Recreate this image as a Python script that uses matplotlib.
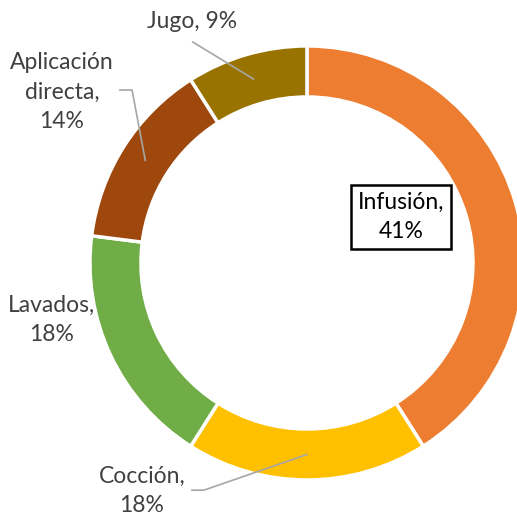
import numpy as np
import matplotlib.pyplot as plt

plt.rcParams['font.family'] = ['Lato', 'DejaVu Sans']

labels = ["Infusión", "Cocción", "Lavados", "Aplicación\ndirecta", "Jugo"]
values = [41, 18, 18, 14, 9]
colors = ["#ED7D31", "#FFC000", "#70AD47", "#9E480E", "#997300"]

fig = plt.figure(figsize=(5.17, 5.17), dpi=100)
# axes placed so the ring sits like the original (right side slightly cut)
ax = fig.add_axes([0.174, 0.0716, 0.8395, 0.8395])

ring = 0.235
wedges, _ = ax.pie(values, colors=colors, startangle=90, counterclock=False,
                   radius=1, wedgeprops=dict(width=ring, edgecolor='white', linewidth=2.5))
for w in wedges:
    w.set_clip_on(False)
ax.set_xlim(-1, 1)
ax.set_ylim(-1, 1)
ax.set_aspect('equal')
ax.axis('off')

texts = ["Infusión,\n41%", "Cocción,\n18%", "Lavados,\n18%",
         "Aplicación\ndirecta,\n14%", "Jugo, 9%"]

# label positions in axis units (radius = 1)
pos = [(0.433, 0.212), (-0.76, -1.05), (-1.175, -0.263), (-1.129, 0.788), (-0.53, 1.111)]

gray = "#A6A6A6"
tcol = "#404040"
mids = []
for w in wedges:
    a = np.deg2rad((w.theta1 + w.theta2) / 2)
    r = 1 - ring / 2
    mids.append((r * np.cos(a), r * np.sin(a)))

for i, (t, (x, y)) in enumerate(zip(texts, pos)):
    if i == 0:
        ax.text(x, y, t, ha='center', va='center', fontsize=16.5, color='black', linespacing=1.5,
                bbox=dict(boxstyle='square,pad=0.28', fc='white', ec='black', lw=1.8), clip_on=False)
    else:
        ax.text(x, y, t, ha='center', va='center', fontsize=16.5, color=tcol, linespacing=1.5,
                clip_on=False)

# leader lines
mx, my = mids[4]
ax.plot([-0.526, mx], [1.018, my], color=gray, lw=1.2, clip_on=False)
mx, my = mids[3]
ax.plot([-0.862, -0.806, mx], [0.797, 0.797, my], color=gray, lw=1.2, clip_on=False)
mx, my = mids[1]
ax.plot([-0.53, -0.475, mx], [-1.047, -1.047, my], color=gray, lw=1.2, clip_on=False)

fig.savefig("out.png", dpi=100)
